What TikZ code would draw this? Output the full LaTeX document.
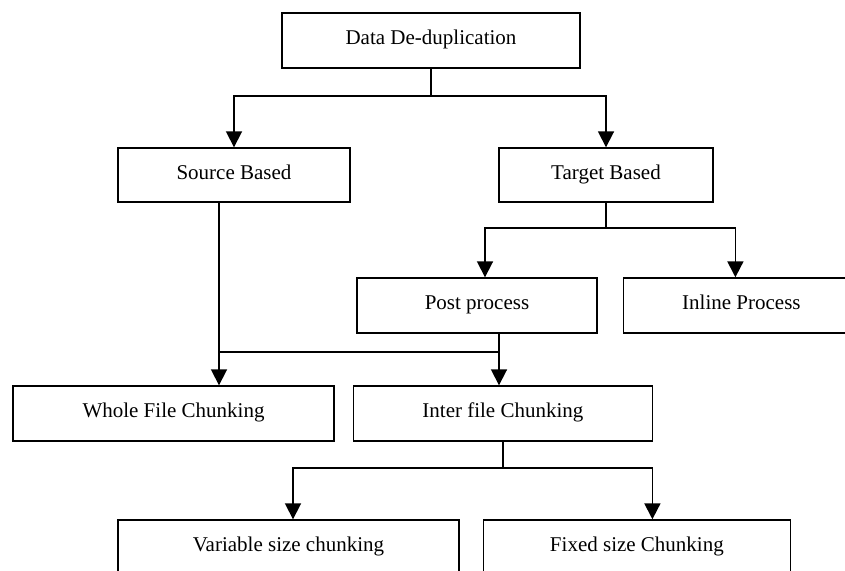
\documentclass[tikz,border=0pt]{standalone}
\usepackage{fontspec}
\setmainfont{Liberation Serif}
\usetikzlibrary{positioning,arrows.meta}

\begin{document}
\begin{tikzpicture}[x=1pt,y=-1pt,
    box/.style={draw,line width=1.4pt,minimum height=55pt,inner sep=0pt,text height=14pt,text depth=6pt,font=\fontsize{21}{25}\selectfont},
    link/.style={line width=1.8pt},
    arr/.style={link,-{Triangle[width=16pt,length=16pt]}}]
  \clip (0,0) rectangle (845,570);
  \node [box,minimum width=298pt] (dedup) at (431,40.5) {Data De-duplication};
  \node [box,minimum width=232pt,minimum height=54pt] (source) at (234,175) {Source Based};
  \node [box,minimum width=214pt,minimum height=54pt] (target) at (606,175) {Target Based};
  \node [box,minimum width=240pt] (post) at (477,305.5) {Post process};
  \node [box,minimum width=236pt] (inline) [right=25pt of post] {Inline Process};
  \node [box,minimum width=321pt] (whole) at (173.5,413.5) {Whole File Chunking};
  \node [box,minimum width=299pt] (inter) [right=18pt of whole] {Inter file Chunking};
  \node [box,minimum width=341pt] (variable) at (288.5,547.5) {Variable size chunking};
  \node [box,minimum width=307pt] (fixed) [right=23pt of variable] {Fixed size Chunking};

  \coordinate (top) at (dedup.south |- 0,96);
  \draw [link] (dedup.south) -- (top);
  \draw [arr] (top) -| (source.north);
  \draw [arr] (top) -| (target.north);

  \coordinate (tj) at (target.south |- 0,228);
  \draw [link] (target.south) -- (tj);
  \draw [arr] (tj) -| ([xshift=8pt]post.north);
  \draw [arr] (tj) -| ([xshift=-6pt]inline.north);

  \coordinate (sj) at ([xshift=-15pt]source.south);
  \coordinate (mj) at ([xshift=22pt]post.south |- 0,352);
  \draw [arr] (sj) -- (sj |- whole.north);
  \draw [link] (sj |- mj) -- (mj);
  \draw [arr] ([xshift=22pt]post.south) -- (mj |- inter.north);

  \coordinate (ij) at (inter.south |- 0,468);
  \draw [link] (inter.south) -- (ij);
  \draw [arr] (ij) -| ([xshift=4.5pt]variable.north);
  \draw [arr] (ij) -| ([xshift=15.5pt]fixed.north);
\end{tikzpicture}
\end{document}
